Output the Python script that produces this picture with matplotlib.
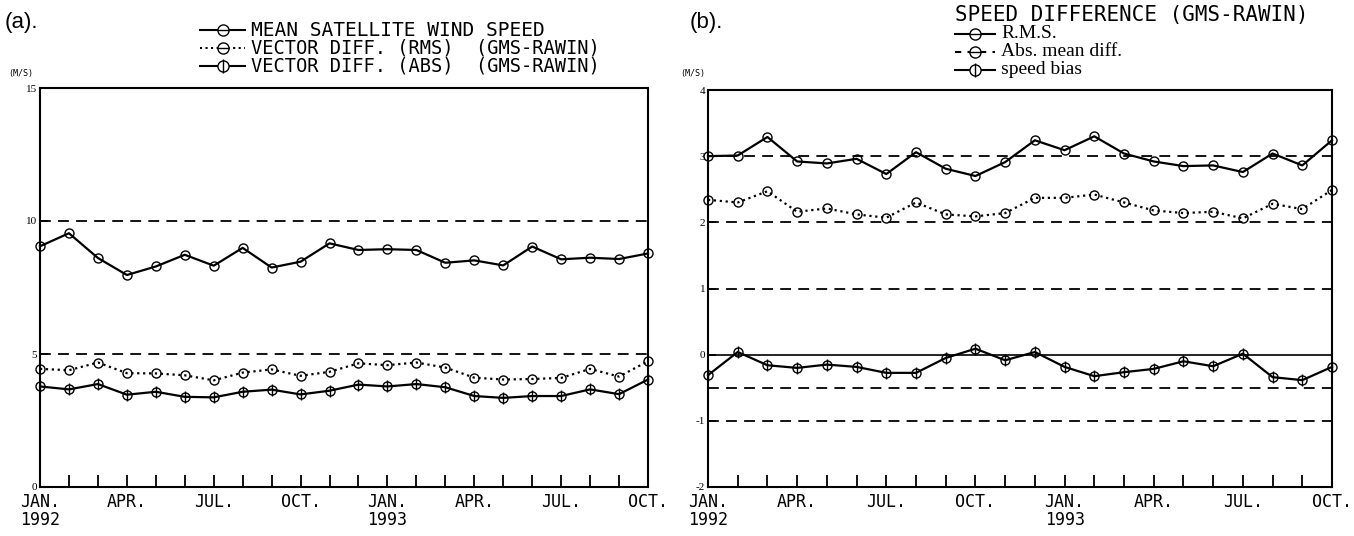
import numpy as np
import matplotlib
matplotlib.use("Agg")
import matplotlib.pyplot as plt
from matplotlib.lines import Line2D

# months Jan 1992 .. Oct 1993
months = np.arange(22)
tick_labels = {0: "JAN.\n1992", 3: "APR.", 6: "JUL.", 9: "OCT.",
               12: "JAN.\n1993", 15: "APR.", 18: "JUL.", 21: "OCT."}

# panel (a)
mean_speed = [9.05, 9.54, 8.61, 7.97, 8.29, 8.73, 8.32, 8.99, 8.25, 8.47, 9.16,
              8.91, 8.94, 8.91, 8.43, 8.52, 8.33, 9.04, 8.56, 8.62, 8.57, 8.78]
vec_rms = [4.44, 4.39, 4.68, 4.28, 4.27, 4.20, 4.01, 4.30, 4.42, 4.18, 4.33,
           4.65, 4.58, 4.68, 4.49, 4.11, 4.04, 4.06, 4.10, 4.44, 4.15, 4.73]
vec_abs = [3.78, 3.67, 3.87, 3.47, 3.58, 3.39, 3.37, 3.58, 3.66, 3.48, 3.62,
           3.85, 3.78, 3.87, 3.75, 3.42, 3.35, 3.42, 3.42, 3.67, 3.49, 4.04]

# panel (b)
spd_rms = [3.00, 3.01, 3.29, 2.92, 2.89, 2.96, 2.73, 3.06, 2.81, 2.70, 2.91,
           3.24, 3.09, 3.30, 3.04, 2.92, 2.85, 2.86, 2.76, 3.04, 2.86, 3.24]
spd_abs = [2.34, 2.30, 2.47, 2.16, 2.21, 2.12, 2.07, 2.30, 2.12, 2.09, 2.14,
           2.37, 2.37, 2.42, 2.30, 2.18, 2.14, 2.16, 2.06, 2.28, 2.20, 2.49]
spd_bias = [-0.31, 0.04, -0.16, -0.20, -0.15, -0.185, -0.275, -0.275, -0.05, 0.09, -0.085,
            0.04, -0.185, -0.325, -0.265, -0.215, -0.10, -0.175, 0.015, -0.34, -0.385, -0.185]

W, H = 1354, 536
mono = "DejaVu Sans Mono"
dash = (0, (6, 4))

fig = plt.figure(figsize=(W / 100, H / 100), dpi=100)


def px(x0, y0, x1, y1):
    return [x0 / W, 1 - y1 / H, (x1 - x0) / W, (y1 - y0) / H]


def setup(ax, ylim, yticks):
    ax.set_xlim(0, 21)
    ax.set_ylim(*ylim)
    ax.set_xticks(months)
    ax.set_xticklabels([tick_labels.get(m, "") for m in months],
                       family=mono, fontsize=12, linespacing=1.0, ha="center")
    ax.tick_params(axis="x", direction="in", length=9, width=1.3, pad=4)
    ax.set_yticks(yticks)
    ax.set_yticklabels([str(v) for v in yticks], family="Liberation Serif", fontsize=8)
    ax.tick_params(axis="y", direction="in", length=6, width=1.3, pad=2)
    for s in ax.spines.values():
        s.set_linewidth(1.5)


def plot_series(ax, y, ls, cross=False):
    ax.plot(months, y, color="black", lw=1.6, ls=ls, marker="o", ms=6.5,
            mfc="none", mec="black", mew=1.0, clip_on=False, zorder=3)
    if cross:
        ax.plot(months, y, ls="none", marker="|", ms=8.5, mec="black", mew=1.0,
                clip_on=False, zorder=3)


# ---- (a)
axa = fig.add_axes(px(40, 88, 648, 487))
setup(axa, (0, 15), [0, 5, 10, 15])
for v in [5, 10]:
    axa.axhline(v, color="black", lw=1.3, ls=dash, zorder=1)
plot_series(axa, mean_speed, "-")
plot_series(axa, vec_rms, ":")
plot_series(axa, vec_abs, "-", cross=True)

# ---- (b)
axb = fig.add_axes(px(708, 90, 1332, 487))
setup(axb, (-2, 4), [-2, -1, 0, 1, 2, 3, 4])
for v in [3, 2, 1, -0.5, -1]:
    axb.axhline(v, color="black", lw=1.3, ls=dash, zorder=1)
axb.axhline(0, color="black", lw=1.2, zorder=1)
plot_series(axb, spd_rms, "-")
plot_series(axb, spd_abs, ":")
plot_series(axb, spd_bias, "-", cross=True)

# panel labels and units
fig.text(5 / W, 1 - 28 / H, "(a).", fontsize=16, family="Liberation Sans")
fig.text(690 / W, 1 - 28 / H, "(b).", fontsize=16, family="Liberation Sans")
fig.text(8 / W, 1 - 76 / H, "(M/S)", fontsize=6, family=mono)
fig.text(680 / W, 1 - 76 / H, "(M/S)", fontsize=6, family=mono)


def legend_entry(x0, x1, y, ls, cross, label, **kw):
    yy = 1 - y / H
    fig.add_artist(Line2D([x0 / W, x1 / W], [yy, yy], color="black", lw=1.5, ls=ls))
    xm = (x0 + x1) / 2 / W
    fig.add_artist(Line2D([xm], [yy], marker="o", ms=8, mfc="white", mec="black", mew=1.0))
    if cross:
        fig.add_artist(Line2D([xm], [yy], marker="|", ms=10, mec="black", mew=1.0))
    else:
        fig.add_artist(Line2D([xm - 5 / W, xm + 5 / W], [yy, yy], color="black", lw=1.0))
    fig.text((x1 + 6) / W, yy, label, va="center", **kw)


legend_entry(200, 245, 30, "-", False, "MEAN SATELLITE WIND SPEED", family=mono, fontsize=14)
legend_entry(200, 245, 48, ":", False, "VECTOR DIFF. (RMS)  (GMS-RAWIN)", family=mono, fontsize=13.5)
legend_entry(200, 245, 66, "-", True, "VECTOR DIFF. (ABS)  (GMS-RAWIN)", family=mono, fontsize=13.5)

fig.text(955 / W, 1 - 15 / H, "SPEED DIFFERENCE (GMS-RAWIN)", va="center", family=mono, fontsize=15)
legend_entry(955, 995, 34, "-", False, "R.M.S.", family="Liberation Serif", fontsize=14)
legend_entry(955, 995, 52, (0, (3, 3)), False, "Abs. mean diff.", family="Liberation Serif", fontsize=14)
legend_entry(955, 995, 70, "-", True, "speed bias", family="Liberation Serif", fontsize=14)

fig.savefig("out.png", dpi=100)
